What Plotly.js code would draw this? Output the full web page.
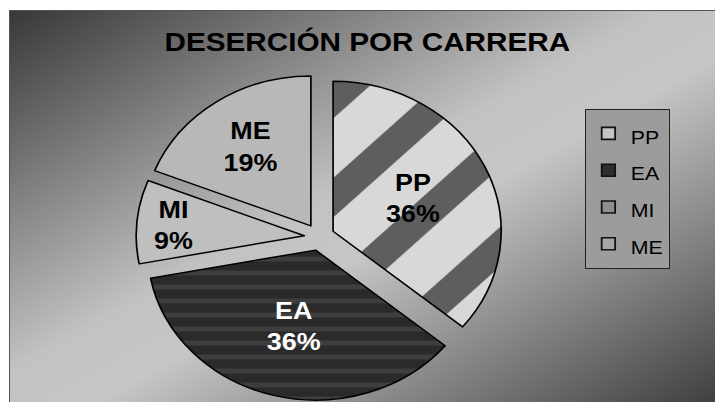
<!DOCTYPE html>
<html><head><meta charset="utf-8">
<script src="https://cdn.plot.ly/plotly-3.0.1.min.js"></script>
<style>
html,body{margin:0;padding:0;background:#fff;width:715px;height:402px;overflow:hidden;}
#bg{position:absolute;left:9px;top:10px;width:706px;height:392px;box-sizing:border-box;border-left:1px solid #555;border-top:1px solid #555;
 background:linear-gradient(to bottom right,#383838 0%,#c2c2c2 46%,#c6c6c6 56%,#404040 100%);}
#chart{position:absolute;left:0;top:0;width:638px;height:402px;transform:scaleX(1.1207);transform-origin:0 0;}
</style></head><body>
<div id="bg"></div><div id="chart"></div>
<script>
// ---- data ----
const categories = ['PP', 'EA', 'MI', 'ME'];
const values = [36, 36, 9, 19];           // percent of dropouts per career
const chartTitle = 'DESERCIÓN POR CARRERA';

// ---- styles ----
const sliceColors = ['#d6d6d6', '#2c2c2c', '#bfbfbf', '#b8b8b8'];
const legendSymbolColors = ['#c4c4c4', '#2e2e2e', '#8e8e8e', '#a6a6a6'];
const textColors = ['#000', '#fff', '#000', '#000'];
const FONT = 'Arial, "Liberation Sans", sans-serif';

const trace = {
  type: 'pie',
  labels: categories.map(c => '<span style="font-size:19px">' + c + '</span>'),
  text: categories,
  values: values,
  sort: false,
  direction: 'clockwise',
  rotation: 0,
  pull: values.map(() => 0.09),
  domain: {x: [0.1904, 0.703], y: [0.0037, 0.817]},
  marker: {
    colors: sliceColors,
    line: {color: '#000', width: 1.5},
    pattern: {
      shape: ['/', '-', '', ''],
      bgcolor: ['#d8d8d8', '#2a2a2a', '#bfbfbf', '#b8b8b8'],
      fgcolor: ['#5e5e5e', '#3e3e3e', '#bfbfbf', '#b8b8b8'],
      size: [70, 14, 8, 8],
      solidity: [0.4, 0.35, 0.2, 0.2]
    }
  },
  texttemplate: '%{text}<br>%{percent:.0%}',
  textposition: 'inside',
  insidetextorientation: 'horizontal',
  textfont: {family: FONT, size: 24, color: textColors, weight: 'bold'},
  hoverinfo: 'none'
};

const layout = {
  width: 638, height: 402,
  margin: {l: 0, r: 0, t: 0, b: 0},
  paper_bgcolor: 'rgba(0,0,0,0)',
  plot_bgcolor: 'rgba(0,0,0,0)',
  title: {
    text: chartTitle,
    font: {family: FONT, size: 26.5, color: '#000', weight: 'bold'},
    x: 0.5137, xanchor: 'center', xref: 'container',
    y: 0.8968, yanchor: 'middle', yref: 'container'
  },
  uniformtext: {mode: 'show', minsize: 24},
  showlegend: true,
  legend: {
    x: 0.818, xanchor: 'left', y: 0.7289, yanchor: 'top',
    bgcolor: '#9c9c9c', bordercolor: '#222', borderwidth: 1,
    font: {family: FONT, size: 26, color: '#000'},
    traceorder: 'normal'
  }
};

Plotly.newPlot('chart', [trace], layout, {displayModeBar: false, staticPlot: true}).then(gd => {
  // plain filled legend swatches with a heavy outline, as in the original
  const syms = gd.querySelectorAll('.legend .traces');
  syms.forEach((g, i) => {
    g.querySelectorAll('.legendpoints path').forEach(p => {
      p.style.fill = legendSymbolColors[i];
      p.style.stroke = '#111';
      p.style.strokeWidth = '1.6px';
    });
  });
});
</script>
</body></html>
